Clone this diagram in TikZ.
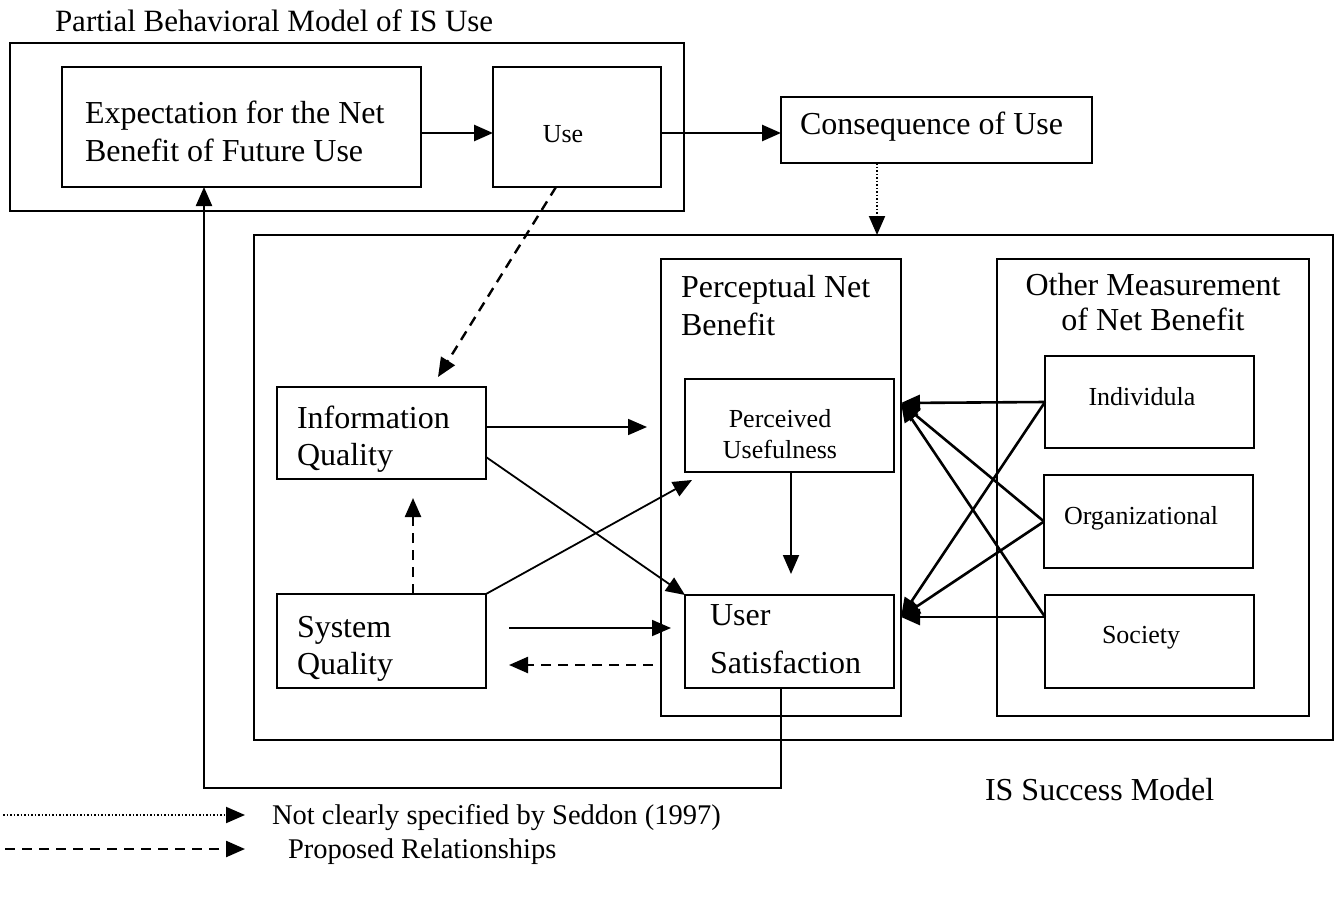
\documentclass[tikz,border=0pt]{standalone}
\usepackage{fontspec}
\setmainfont{Liberation Serif}
\usetikzlibrary{arrows.meta}
\newcommand{\fbig}{\fontsize{32}{37}\selectfont}
\newcommand{\fsml}{\fontsize{26}{31}\selectfont}
\newcommand{\fleg}{\fontsize{28.5}{33}\selectfont}
\newcommand{\fttl}{\fontsize{31}{36}\selectfont}
\tikzset{
  box/.style={draw, rectangle, line width=1.9pt, inner sep=0pt, outer sep=0pt},
  ibox/.style={box, line width=1.7pt},
  lbl/.style={inner sep=0pt, outer sep=0pt, anchor=base west, font=\fbig},
  slbl/.style={inner sep=0pt, outer sep=0pt, anchor=base, font=\fsml},
  tipstyle/.style={-{Triangle[length=19pt,width=16pt]}},
  arr/.style={tipstyle, line width=1.8pt},
  tarr/.style={tipstyle, line width=2.6pt},
  darr/.style={tipstyle, line width=2.4pt, dash pattern=on 10pt off 7pt},
  oarr/.style={tipstyle, line width=2pt, dash pattern=on 1.6pt off 1.9pt},
  farr/.style={tipstyle, line width=2.2pt},
}
\begin{document}
\begin{tikzpicture}[x=1pt,y=-1pt]
\useasboundingbox (0,0) rectangle (1335,907);

% Partial behavioral model
\node[lbl, font=\fttl] (title) at (55,32) {Partial Behavioral Model of IS Use};
\node[box, minimum width=674pt, minimum height=168pt] (outerA) at (347,127) {};
\node[ibox, minimum width=359pt, minimum height=120pt] (expect) at (241.5,127) {};
\node[lbl] (expT1) at (85,123) {Expectation for the Net};
\node[lbl] (expT2) at (85,161) {Benefit of Future Use};
\node[ibox, minimum width=168pt, minimum height=120pt] (use) at (577,127) {};
\node[slbl] (useT) at (563,142) {Use};

% Consequence
\node[ibox, minimum width=311pt, minimum height=66pt] (conseq) at (936.5,130) {};
\node[lbl] (conT) at (800,134) {Consequence of Use};

% IS Success Model
\node[box, minimum width=1079pt, minimum height=505pt] (isbox) at (793.5,487.5) {};
\node[lbl] (isT) at (985,800) {IS Success Model};

\node[box, minimum width=240pt, minimum height=457pt] (perc) at (781,487.5) {};
\node[lbl] (percT1) at (681,297) {Perceptual Net};
\node[lbl] (percT2) at (681,335) {Benefit};

\node[box, minimum width=312pt, minimum height=457pt] (other) at (1153,487.5) {};
\node[lbl, anchor=base] (othT1) at (1153,295) {Other Measurement};
\node[lbl, anchor=base] (othT2) at (1153,330) {of Net Benefit};

\node[ibox, minimum width=209pt, minimum height=92pt] (infoq) at (381.5,433) {};
\node[lbl] (infT1) at (297,428) {Information};
\node[lbl] (infT2) at (297,465) {Quality};

\node[ibox, minimum width=209pt, minimum height=94pt] (sysq) at (381.5,641) {};
\node[lbl] (sysT1) at (297,637) {System};
\node[lbl] (sysT2) at (297,674) {Quality};

\node[ibox, minimum width=209pt, minimum height=93pt] (pu) at (789.5,425.5) {};
\node[slbl] (puT1) at (780,427) {Perceived};
\node[slbl] (puT2) at (780,458) {Usefulness};

\node[ibox, minimum width=209pt, minimum height=93pt] (us) at (789.5,641.5) {};
\node[lbl] (usT1) at (710,625) {User};
\node[lbl] (usT2) at (710,673) {Satisfaction};

\node[ibox, minimum width=209pt, minimum height=92pt] (indiv) at (1149.5,402) {};
\node[slbl] (indT) at (1142,405) {Individula};
\node[ibox, minimum width=209pt, minimum height=93pt] (org) at (1148.5,521.5) {};
\node[slbl] (orgT) at (1141,524) {Organizational};
\node[ibox, minimum width=209pt, minimum height=93pt] (soc) at (1149.5,641.5) {};
\node[slbl] (socT) at (1141,643) {Society};

% free-end coordinates
\coordinate (e5) at (647,427);
\coordinate (e7) at (692,480);
\coordinate (e8) at (413,498);
\coordinate (s9) at (509,628);
\coordinate (e9) at (671,628);
\coordinate (s10) at (653,665);
\coordinate (e10) at (509,665);
\coordinate (e11) at (791,574);
\coordinate (tPU) at (901,403);
\coordinate (tUS) at (901,617);
\coordinate (fb) at (204,788);

% connectors
\draw[tarr] ([yshift=-6pt]expect.east) -- ([yshift=-6pt]use.west);
\draw[tarr] ([yshift=-6pt]use.east) -- ([yshift=-6pt]use.east -| conseq.west);
\draw[oarr] ([xshift=-59.5pt]conseq.south) -- ([xshift=-59.5pt]conseq.south |- isbox.north);
\draw[darr] ([xshift=-21pt]use.south) -- ([xshift=56.5pt,yshift=10pt]infoq.north);
\draw[arr] (infoq.east |- e5) -- (e5);
\draw[arr] ([yshift=-24pt]infoq.east) -- (us.north west);
\draw[arr] (sysq.north east) -- (e7);
\draw[darr] (sysq.north -| e8) -- (e8);
\draw[arr] (s9) -- (e9);
\draw[darr] (s10) -- (e10);
\draw[arr] (pu.south -| e11) -- (e11);
\draw[tarr] (indiv.west) -- (tPU);
\draw[tarr] (indiv.west) -- (tUS);
\draw[tarr] (org.west) -- (tPU);
\draw[tarr] (org.west) -- (tUS);
\draw[tarr] (soc.west |- tUS) -- (tUS);
\draw[tarr] (soc.west |- tUS) -- (tPU);
\draw[farr] ([xshift=-8.5pt]us.south) |- (fb) -- (fb |- expect.south);

% legend
\coordinate (l1s) at (3,815);
\coordinate (l1e) at (245,815);
\coordinate (l2s) at (5,849);
\coordinate (l2e) at (245,849);
\draw[oarr] (l1s) -- (l1e);
\draw[darr] (l2s) -- (l2e);
\node[lbl, font=\fleg] (leg1) at (272,824) {Not clearly specified by Seddon (1997)};
\node[lbl, font=\fleg] (leg2) at (288,858) {Proposed Relationships};
\end{tikzpicture}
\end{document}
